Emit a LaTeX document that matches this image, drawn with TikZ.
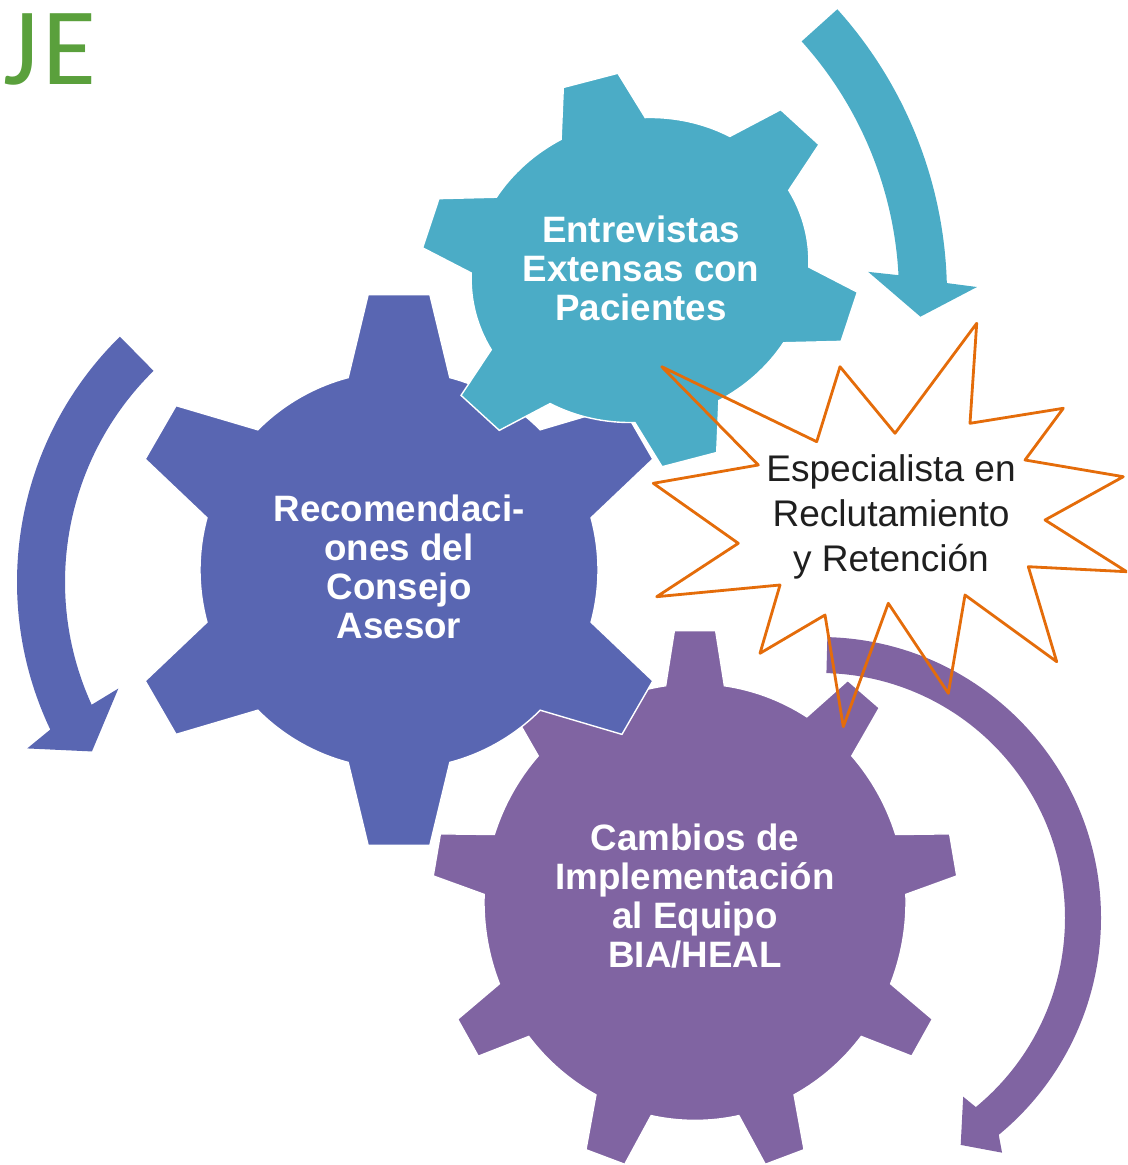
\documentclass[tikz,border=0pt]{standalone}
\usepackage{fontspec}
\setmainfont{Liberation Sans}
\newfontfamily\headfont{Carlito}
\tikzset{>=stealth}
\definecolor{gearBlue}{RGB}{89,102,178}
\definecolor{gearTeal}{RGB}{75,172,198}
\definecolor{gearPurple}{RGB}{128,100,162}
\definecolor{starOrange}{RGB}{228,108,10}
\definecolor{headGreen}{RGB}{90,160,60}
\colorlet{penColor}{black!88}

% gear: #1 teeth, #2 first tooth, #3 body radius, #4 tip radius, #5 half angle at root, #6 half angle at tip
\newcommand{\gearpath}[6]{%
	({#2-#5}:#3)
	\foreach \k [evaluate=\k as \a using #2+(\k-1)*360/#1] in {1,...,#1} {
		-- ({\a-#6}:#4) -- ({\a+#6}:#4) -- ({\a+#5}:#3)
		arc[start angle={\a+#5}, end angle={\a+360/#1-#5}, radius=#3]
	} -- cycle}

\tikzset{
	gear/.style={fill=#1, draw=white, line width=0.8pt},
	gearlabel/.style={text=white, align=center, inner sep=0pt,
		font=\fontsize{20.9}{22.2}\selectfont\bfseries},
	burst/.style={draw=starOrange, line width=1.6pt, line join=round},
}

\begin{document}
\begin{tikzpicture}[x=0.02cm,y=0.02cm]
	\useasboundingbox (0,0) rectangle (1127,-1165);
	\clip (0,0) rectangle (1127,-1165);

	% turning arrows
	\begin{scope}[shift={(361,-582)}]
		\fill[gearBlue] (134.5:344) arc[start angle=134.5, end angle=205.4, radius=344]
			-- (206.5:373) -- (212.2:318) -- (203.7:265) -- (204.5:296)
			arc[start angle=204.5, end angle=134.5, radius=296] -- cycle;
	\end{scope}
	\begin{scope}[shift={(520,-295)}]
		\fill[gearTeal] (42:427) arc[start angle=42, end angle=1.6, radius=427]
			-- (1:457) -- (-3.1:401) -- (3.8:349) -- (3:379)
			arc[start angle=3, end angle=42, radius=379] -- cycle;
	\end{scope}
	\begin{scope}[shift={(820,-918)}]
		\fill[gearPurple] (88.5:281) arc[start angle=88.5, end angle=-50.5, radius=281]
			-- (-52.2:297) -- (-58.2:267) -- (-51.3:229) -- (-50.5:245)
			arc[start angle=-50.5, end angle=88.5, radius=245] -- cycle;
	\end{scope}

	% gears
	\begin{scope}[shift={(695,-902)}, yscale=1.035]
		\path[gear=gearPurple] \gearpath{9}{90}{211}{263}{8}{4.5};
	\end{scope}
	\begin{scope}[shift={(399,-570)}]
		\path[gear=gearBlue] \gearpath{6}{90}{199}{277}{14.8}{6.4};
	\end{scope}
	\begin{scope}[shift={(640,-270)}, rotate=14.6, yscale=0.89]
		\path[gear=gearTeal] \gearpath{6}{90}{170}{222}{14.8}{7.3};
	\end{scope}

	% explosion
	\draw[burst] (661.7,-366.7) -- (816.7,-441.7) -- (840,-366.7) -- (895,-433.3)
		-- (976.7,-323.3) -- (970,-423.3) -- (1063.3,-408.3) -- (1025,-460)
		-- (1123.3,-476.7) -- (1045,-520) -- (1126.7,-571.7) -- (1028.3,-566.7)
		-- (1056.7,-661.7) -- (965,-595) -- (948.3,-693.3) -- (888.3,-603.3)
		-- (843.3,-726.7) -- (825,-615) -- (760,-653.3) -- (780,-585)
		-- (656.7,-596.7) -- (738.3,-543.3) -- (653.3,-483.3) -- (758.3,-465) -- cycle;

	\node[gearlabel] (interviews) at (641,-268) {Entrevistas\\Extensas con\\Pacientes};
	\node[gearlabel] (council) at (399,-567) {Recomendaci-\\ones del\\Consejo\\Asesor};
	\node[gearlabel] (changes) at (695,-896) {Cambios de\\Implementación\\al Equipo\\BIA/HEAL};
	\node[text=penColor, align=center, inner sep=0pt, font=\fontsize{21.1}{25.5}\selectfont]
		(recruiter) at (891,-517) {Especialista en\\Reclutamiento\\y Retención};

	\node[anchor=base east, inner sep=0pt, text=headGreen, font=\headfont\fontsize{62.8}{70}\selectfont]
		(title) at (97,-85) {J\kern2.5pt E};
\end{tikzpicture}
\end{document}
